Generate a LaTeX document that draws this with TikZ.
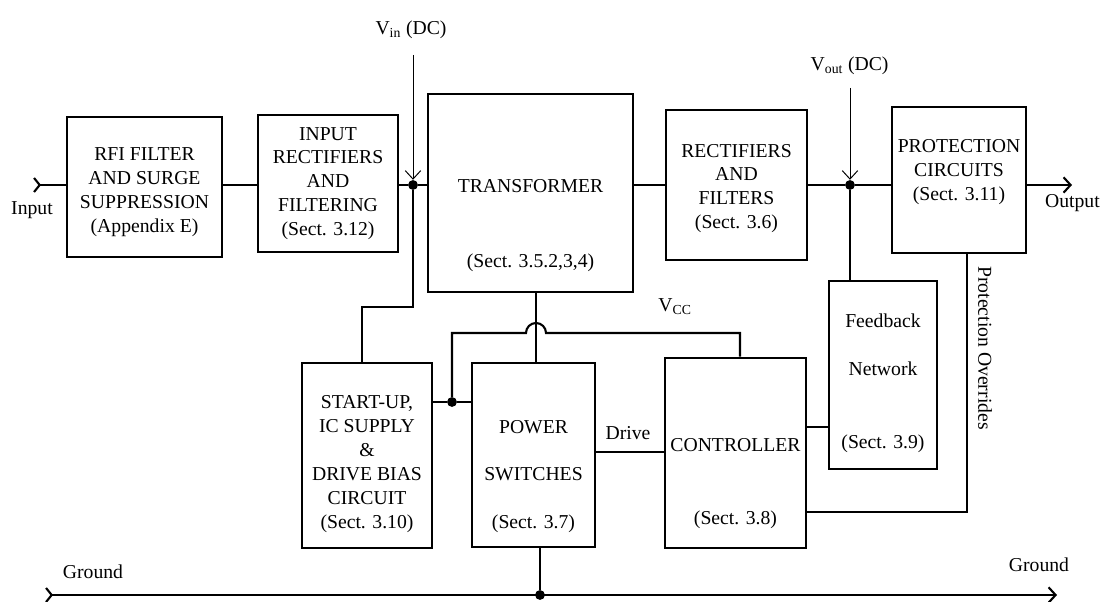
\documentclass[tikz,border=0pt]{standalone}
\usepackage{fontspec}
\setmainfont{Liberation Serif}
\usepackage{tikz}
\usetikzlibrary{arrows, arrows.meta}
\tikzstyle{block} = [rectangle, draw=black, line width=1.8pt, inner sep=0pt]
\tikzstyle{txt} = [align=center, font=\fontsize{14}{17}\selectfont]
\tikzstyle{wire} = [line width=1.5pt]
\tikzstyle{arrow} = [line width=1.5pt,-{Straight Barb[length=5pt,width=11pt]}]
\tikzstyle{tail} = [line width=1.5pt,{Straight Barb[reversed,length=4pt,width=10pt]}-]
\tikzstyle{bus} = [line width=1.5pt,{Straight Barb[reversed,length=4pt,width=10pt]}-{Straight Barb[length=5pt,width=11pt]}]
\tikzstyle{feed} = [line width=0.7pt,-{Straight Barb[length=6pt,width=11pt]}]
\tikzstyle{dot} = [circle, fill=black, inner sep=0pt, minimum size=7pt]

\begin{document}
\begin{tikzpicture}
\useasboundingbox (0,0) rectangle (27.525,15.05);

% power path
\node (rfi) [block, minimum width=3.875cm, minimum height=3.5cm] at (3.6125,10.375) {};
\node (rfitxt) [txt, yshift=-0.125cm] at (rfi) {RFI FILTER\\AND SURGE\\SUPPRESSION\\(Appendix E)};
\node (inrect) [block, minimum width=3.5cm, minimum height=3.425cm] at (8.2,10.4625) {};
\node (inrecttxt) [txt] at (inrect) {INPUT\\RECTIFIERS\\AND\\FILTERING\\(Sect. 3.12)};
\node (trans) [block, minimum width=5.125cm, minimum height=4.95cm] at (13.2625,10.225) {};
\node (transtxt) [txt, yshift=-0.8125cm] at (trans) {TRANSFORMER\\[36pt](Sect. 3.5.2,3,4)};
\node (rect) [block, minimum width=3.525cm, minimum height=3.75cm] at (18.4125,10.425) {};
\node (recttxt) [txt, yshift=-0.0875cm] at (rect) {RECTIFIERS\\AND\\FILTERS\\(Sect. 3.6)};
\node (prot) [block, minimum width=3.35cm, minimum height=3.65cm] at (23.975,10.55) {};
\node (prottxt) [txt, yshift=0.2cm] at (prot) {PROTECTION\\CIRCUITS\\(Sect. 3.11)};

% control path
\node (startup) [block, minimum width=3.25cm, minimum height=4.625cm] at (9.175,3.6625) {};
\node (startuptxt) [txt, yshift=-0.2125cm] at (startup) {START-UP,\\IC SUPPLY\\\&\\DRIVE BIAS\\CIRCUIT\\(Sect. 3.10)};
\node (power) [block, minimum width=3.075cm, minimum height=4.6cm] at (13.3375,3.675) {};
\node (powertxt) [txt, yshift=-0.5375cm] at (power) {POWER\\[17pt]SWITCHES\\[17pt](Sect. 3.7)};
\node (ctrl) [block, minimum width=3.525cm, minimum height=4.75cm] at (18.3875,3.725) {};
\node (ctrltxt) [txt, yshift=-0.7625cm] at (ctrl) {CONTROLLER\\[35pt](Sect. 3.8)};
\node (fb) [block, minimum width=2.7cm, minimum height=4.7cm] at (22.075,5.675) {};
\node (fbtxt) [txt, yshift=-0.2125cm] at (fb) {Feedback\\[17pt]Network\\[35pt](Sect. 3.9)};

% junctions and bends
\coordinate (in) at (0.825,10.425);
\coordinate (out) at (26.8,10.425);
\node (vin) [dot] at (10.325,10.425) {};
\node (vout) [dot] at (21.25,10.425) {};
\coordinate (vintop) at (10.325,13.675);
\coordinate (vouttop) at (21.25,12.85);
\coordinate (sup1) at (10.325,7.375);
\coordinate (sup2) at (9.05,7.375);
\node (vcc) [dot] at (11.3,5.0) {};
\coordinate (hop) at (13.4,6.725);
\coordinate (vccr) at (18.5,6.725);
\coordinate (drive) at (15.7,3.75);
\coordinate (fbin) at (20.4,4.375);
\coordinate (ovr) at (24.175,2.25);
\node (gnd) [dot] at (13.5,0.175) {};
\coordinate (gl) at (1.125,0.175);
\coordinate (gr) at (26.425,0.175);

% main line
\draw [tail] (in) -- (rfi.west |- in);
\draw [wire] (rfi.east |- in) -- (inrect.west |- in);
\draw [wire] (inrect.east |- in) -- (vin) -- (trans.west |- in);
\draw [wire] (trans.east |- in) -- (rect.west |- in);
\draw [wire] (rect.east |- in) -- (vout) -- (prot.west |- in);
\draw [arrow] (prot.east |- in) -- (out);
\draw [feed] (vintop) -- (vin);
\draw [feed] (vouttop) -- (vout);

% lower connections
\draw [wire] (vin) -- (sup1) -- (sup2) -- (sup2 |- startup.north);
\draw [wire] (startup.east |- vcc) -- (vcc) -- (power.west |- vcc);
\draw [wire] (vcc) -- (vcc |- hop) -- ([xshift=-0.25cm]hop) arc (180:0:0.25) -- (vccr) -- (vccr |- ctrl.north);
\draw [wire] (trans.south -| hop) -- (power.north -| hop);
\draw [wire] (power.east |- drive) -- (ctrl.west |- drive);
\draw [wire] (ctrl.east |- fbin) -- (fb.west |- fbin);
\draw [wire] (vout) -- (vout |- fb.north);
\draw [wire] (prot.south -| ovr) -- (ovr) -- (ctrl.east |- ovr);
\draw [wire] (power.south -| gnd) -- (gnd);
\draw [bus] (gl) -- (gr);

% labels
\node (inlbl) [txt] at (0.8,9.8) {Input};
\node (outlbl) [txt] at (26.81,9.975) {Output};
\node (vinlbl) [txt] at (10.275,14.3) {V\textsubscript{in} (DC)};
\node (voutlbl) [txt] at (21.24,13.4) {V\textsubscript{out} (DC)};
\node (vcclbl) [txt] at (16.875,7.375) {V\textsubscript{CC}};
\node (drivelbl) [txt] at (drive) [yshift=0.475cm] {Drive};
\node (ovrtxt) [txt, rotate=-90] at (24.625,6.35) {Protection Overrides};
\node (gndl) [txt] at (2.325,0.75) {Ground};
\node (gndr) [txt] at (25.975,0.925) {Ground};
\end{tikzpicture}
\end{document}
